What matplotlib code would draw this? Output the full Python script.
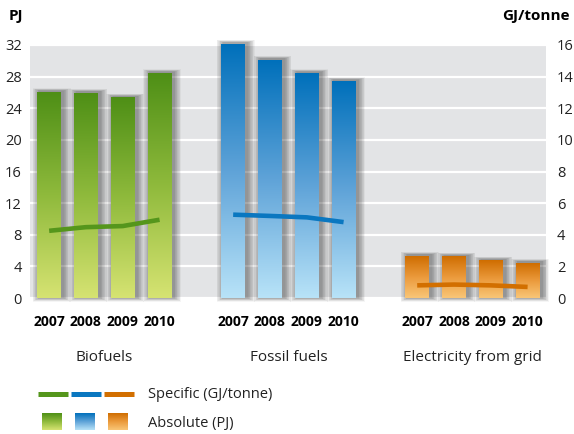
import numpy as np
import matplotlib
matplotlib.use("Agg")
import matplotlib.pyplot as plt
from matplotlib.colors import LinearSegmentedColormap
from matplotlib.patches import Rectangle
from matplotlib.lines import Line2D
import matplotlib.transforms as mtransforms

plt.rcParams['font.family'] = ['Open Sans', 'DejaVu Sans']

# data
years = ["2007", "2008", "2009", "2010"]
categories = ["Biofuels", "Fossil fuels", "Electricity from grid"]
absolute_pj = {
    "Biofuels": [26.0, 25.9, 25.3, 28.4],
    "Fossil fuels": [32.1, 30.1, 28.4, 27.4],
    "Electricity from grid": [5.3, 5.2, 4.7, 4.4],
}
specific_gj = {
    "Biofuels": [4.25, 4.48, 4.55, 4.95],
    "Fossil fuels": [5.27, 5.19, 5.10, 4.80],
    "Electricity from grid": [0.80, 0.85, 0.80, 0.70],
}

# styles
bar_colors = {
    "Biofuels": ("#d6e372", "#8fba3c", "#4e8f16"),
    "Fossil fuels": ("#b8e3f8", "#5fa3d8", "#0070bb"),
    "Electricity from grid": ("#f9c677", "#eb9a3c", "#cf6d00"),
}
line_colors = {
    "Biofuels": "#55961c",
    "Fossil fuels": "#0a77c0",
    "Electricity from grid": "#d26f00",
}
cmaps = {k: LinearSegmentedColormap.from_list(k, v) for k, v in bar_colors.items()}

fig = plt.figure(figsize=(5.74, 4.34), dpi=100)
ax = fig.add_axes([30 / 574, 1 - 298 / 434, 516 / 574, 253 / 434])
ax2 = ax.twinx()

ax.set_facecolor("#e3e4e6")
bar_w = 0.65
grad = np.linspace(1, 0, 256)[:, None]
px_x = 1 / 36.9   # one pixel in x data units
px_y = 32 / 253   # one pixel in PJ

xpos_all = []
for gi, cat in enumerate(categories):
    xs = np.arange(4) + gi * 5
    xpos_all.extend(xs)
    for x, h in zip(xs, absolute_pj[cat]):
        # soft drop shadow
        for k in range(1, 11):
            ax.add_patch(Rectangle((x - bar_w / 2 - k * 0.7 * px_x + 2.5 * px_x,
                                    -k * 0.35 * px_y),
                                   bar_w + 1.4 * k * px_x,
                                   h + k * 0.6 * px_y + 1.5 * px_y,
                                   color="black", alpha=0.04, lw=0, zorder=1,
                                   clip_on=False))
        ax.imshow(grad, extent=(x - bar_w / 2, x + bar_w / 2, 0, h),
                  aspect="auto", cmap=cmaps[cat], zorder=2,
                  interpolation="bicubic", clip_on=False)
    ax2.plot(xs, specific_gj[cat], color=line_colors[cat], lw=3.3,
             solid_capstyle="butt", zorder=5)

ax.set_xlim(-0.52, 13.5)
ax.set_ylim(0, 32)
ax2.set_ylim(0, 16)
ax.set_yticks(np.arange(0, 33, 4))
ax2.set_yticks(np.arange(0, 17, 2))
ax.yaxis.grid(True, color="white", lw=1.6, zorder=0.5)
ax.set_axisbelow(True)

ax.set_xticks(xpos_all)
ax.set_xticklabels(years * 3, fontweight="bold", fontsize=10)
ax.tick_params(axis="x", length=0, pad=12)
ax.tick_params(axis="y", length=0, pad=6, labelsize=10.5, labelcolor="#222222")
ax2.tick_params(axis="y", length=0, pad=8, labelsize=10.5, labelcolor="#222222")
for a in (ax, ax2):
    for s in a.spines.values():
        s.set_visible(False)

trans = mtransforms.blended_transform_factory(ax.transData, ax.transAxes)
for gi, cat in enumerate(categories):
    ax.text(gi * 5 + 1.5, -0.235, cat, transform=trans, ha="center",
            va="center", fontsize=11, color="#222222")

fig.text(9 / 574, 1 - 16 / 434, "PJ", fontweight="bold", fontsize=11,
         va="center", ha="left")
fig.text(570 / 574, 1 - 16 / 434, "GJ/tonne", fontweight="bold", fontsize=11,
         va="center", ha="right")

# legend
lax = fig.add_axes([0, 0, 1, 1], zorder=-1)
lax.set_xlim(0, 574)
lax.set_ylim(434, 0)
lax.axis("off")
for i, cat in enumerate(categories):
    x0 = 38 + i * 33
    lax.add_line(Line2D([x0, x0 + 30], [394, 394], color=line_colors[cat],
                        lw=3.6, solid_capstyle="butt"))
    lax.imshow(grad, extent=(x0 + 4, x0 + 24, 430, 413), aspect="auto",
               cmap=cmaps[cat], interpolation="bicubic")
lax.set_xlim(0, 574)
lax.set_ylim(434, 0)
lax.text(148, 394, "Specific (GJ/tonne)", fontsize=10.5, va="center",
         color="#222222")
lax.text(148, 423, "Absolute (PJ)", fontsize=10.5, va="center",
         color="#222222")

fig.savefig("out.png", dpi=100)
